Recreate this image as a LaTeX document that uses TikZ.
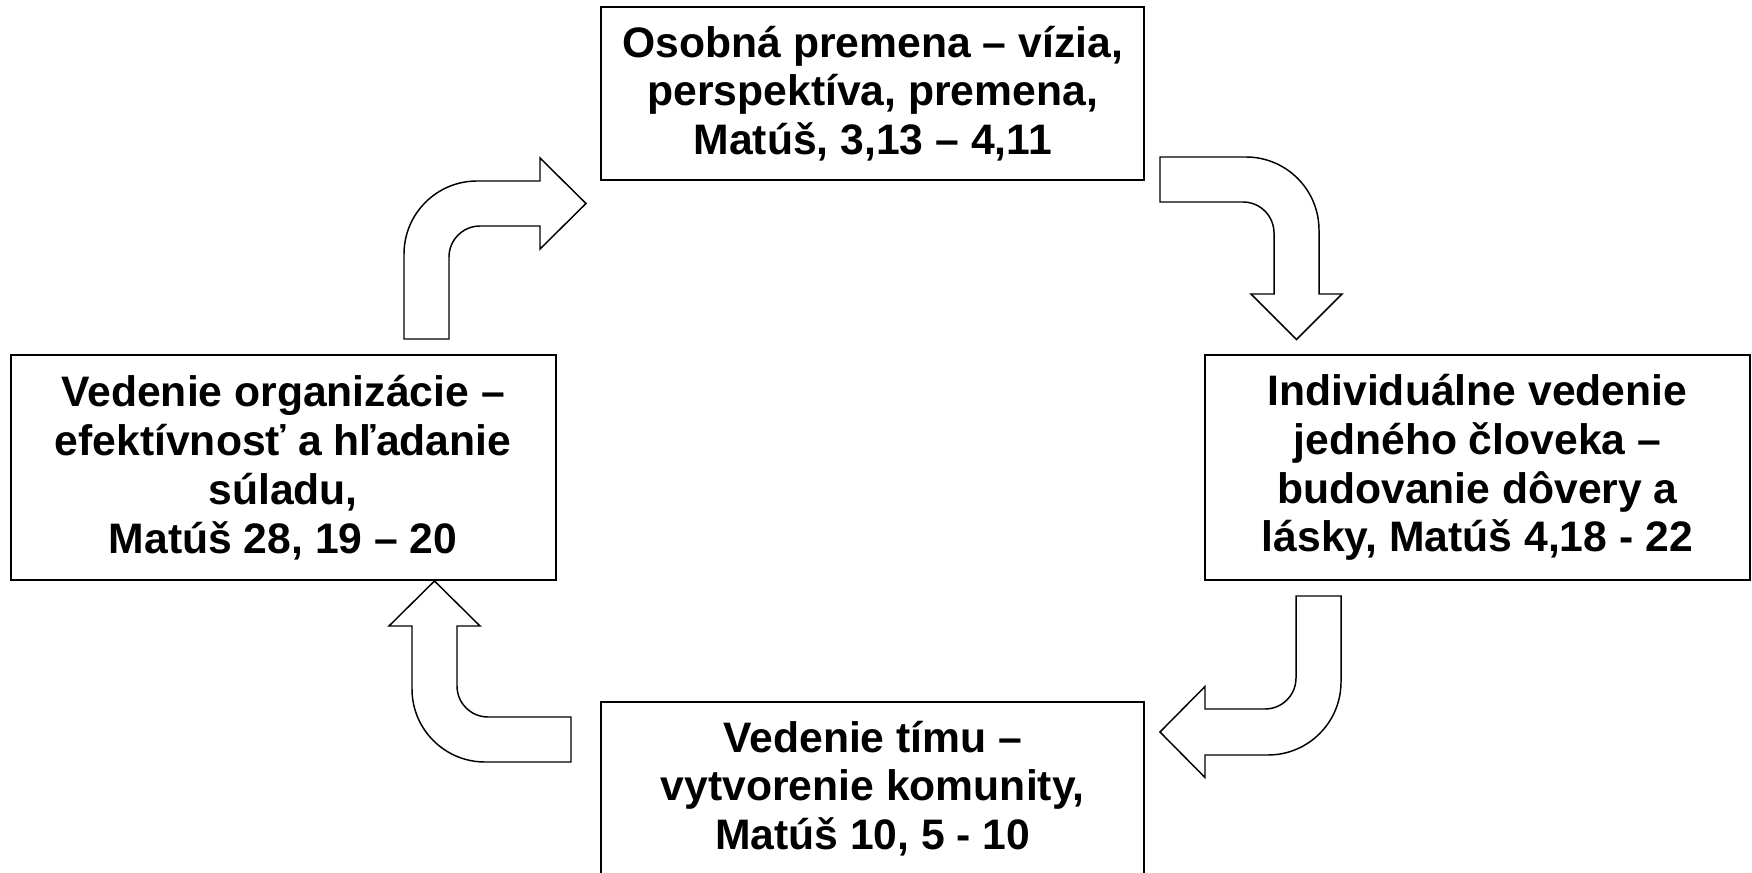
\documentclass[tikz,border=0pt]{standalone}
\usepackage{fontspec}
\setmainfont{Liberation Sans}
\begin{document}
\begin{tikzpicture}[x=0.75pt,y=-0.75pt,
  box/.style={draw=black, line width=1.5pt, fill=white, inner sep=0pt, align=center,
    font=\fontsize{32}{36.6}\selectfont\bfseries, text=black},
  sidebox/.style={box, minimum width=408.6pt, minimum height=168.75pt},
  tbbox/.style={box, minimum width=407.6pt, minimum height=130.35pt},
  blockarrow/.style={draw=black, line width=1.1pt, fill=white, line join=miter}]
\useasboundingbox (0,0) rectangle (1752,873);
\fill[white] (0,0) rectangle (1752,873);

\node[tbbox] (top) at (872.75,93.6) {Osobná premena – vízia,\\perspektíva, premena,\\Matúš, 3,13 – 4,11};
\node[sidebox] (right) at (1477.35,467.5) {Individuálne vedenie\\jedného človeka –\\budovanie dôvery a\\lásky, Matúš 4,18 - 22};
\node[tbbox] (bottom) at (872.75,788.6) {Vedenie tímu –\\vytvorenie komunity,\\Matúš 10, 5 - 10};
\node[sidebox] (left) at (283.1,467.5) {Vedenie organizácie –\\efektívnosť a hľadanie\\súladu,\\Matúš 28, 19 – 20};

% left -> top
\draw[blockarrow] (404,339) -- (404,254) .. controls (404,213.7) and (436.7,181) .. (477,181)
  -- (540,181) -- (540,158) -- (586,203.5) -- (540,249) -- (540,226) -- (480,226)
  .. controls (462.9,226) and (449,239.9) .. (449,257) -- (449,339) -- cycle;
% top -> right
\draw[blockarrow] (1160,157) -- (1246,157) .. controls (1286.3,157) and (1319,189.7) .. (1319,230)
  -- (1319,294) -- (1342,294) -- (1296.5,339.5) -- (1251,294) -- (1274,294) -- (1274,233)
  .. controls (1274,215.9) and (1260.1,202) .. (1243,202) -- (1160,202) -- cycle;
% right -> bottom
\draw[blockarrow] (1341,596) -- (1341,682) .. controls (1341,722.3) and (1308.3,755) .. (1268,755)
  -- (1205,755) -- (1205,777.5) -- (1160,732) -- (1205,686.5) -- (1205,709) -- (1265,709)
  .. controls (1282.1,709) and (1296,695.1) .. (1296,678) -- (1296,596) -- cycle;
% bottom -> left
\draw[blockarrow] (571,762) -- (485,762) .. controls (444.7,762) and (412,729.3) .. (412,689)
  -- (412,626) -- (389,626) -- (434.5,581) -- (480,626) -- (457,626) -- (457,686)
  .. controls (457,703.1) and (470.9,717) .. (488,717) -- (571,717) -- cycle;
\end{tikzpicture}
\end{document}
